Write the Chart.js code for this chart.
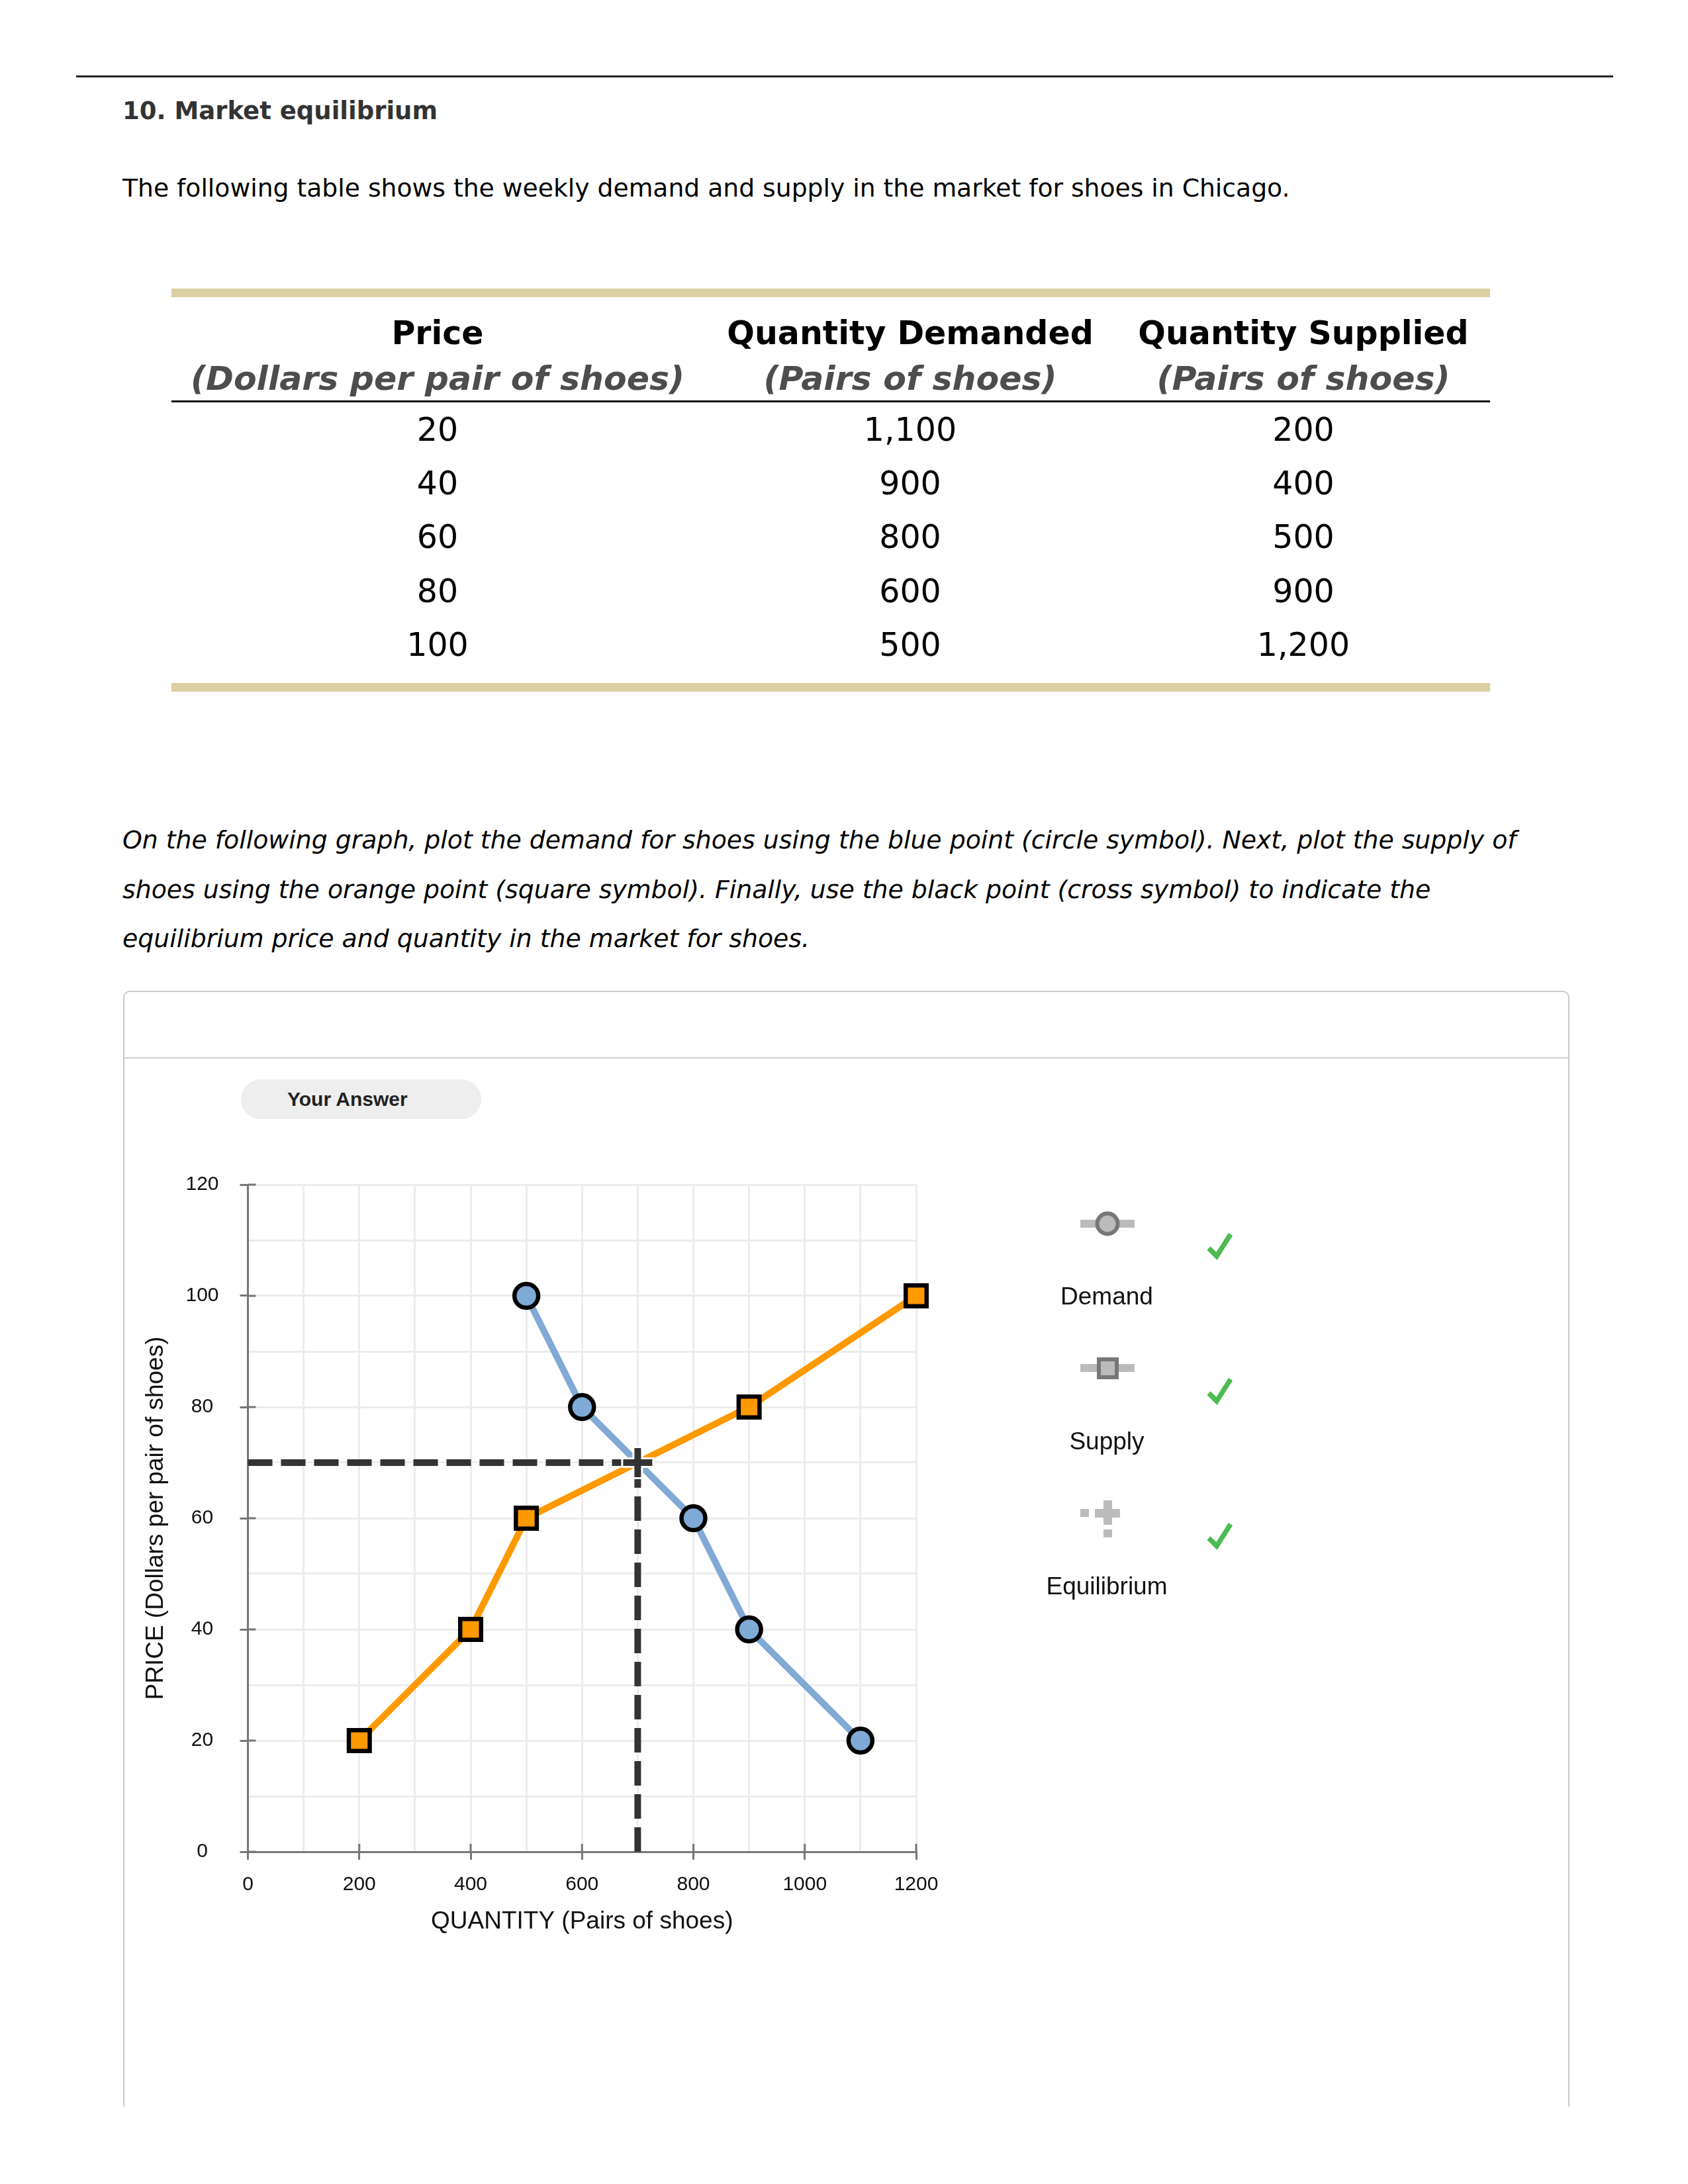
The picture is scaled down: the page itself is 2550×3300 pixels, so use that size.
<!DOCTYPE html>
<html>
<head>
<meta charset="utf-8">
<title>Market equilibrium</title>
<script src="https://cdn.jsdelivr.net/npm/chart.js@4.4.0/dist/chart.umd.min.js"></script>
<style>
  html, body { margin: 0; padding: 0; background: #fff; }
  body {
    width: 2550px; height: 3300px; position: relative; overflow: hidden;
    font-family: "DejaVu Sans", Verdana, sans-serif; color: #000;
  }
  .abs { position: absolute; white-space: nowrap; }
  .rule { left: 115px; top: 114px; width: 2322px; height: 3px; background: #222; }
  .title { left: 185px; top: 143px; line-height: 50px; font-size: 37px; font-weight: bold; color: #333; }
  .intro { left: 185px; top: 259px; line-height: 50px; font-size: 37.7px; }
  .tan { left: 259px; width: 1992px; height: 13px; background: #dbcfa3; }
  .cell { text-align: center; font-size: 49px; line-height: 70px; }
  .head { font-weight: bold; }
  .sub { font-weight: bold; font-style: italic; color: #4d4d4d; font-size: 50.5px; }
  .underline { left: 259px; top: 605px; width: 1992px; height: 3px; background: #111; }
  .para { left: 185px; top: 1232px; font-size: 37.8px; line-height: 74.5px; font-style: italic; }
  .clip { left: 0; top: 0; width: 2550px; height: 3183px; overflow: hidden; }
  .panel {
    position: absolute; left: 186px; top: 1497px; width: 2185px; height: 2200px;
    border: 2px solid #c9c9c9; border-radius: 10px; box-sizing: border-box;
  }
  .divider { position: absolute; left: 0; right: 0; top: 98px; height: 3px; background: #dcdcdc; }
  .pill {
    left: 364px; top: 1631px; width: 363px; height: 60px; border-radius: 30px; background: #eeeeee;
    font-family: "Liberation Sans", Arial, sans-serif; font-weight: bold; font-size: 30px;
    line-height: 60px; color: #222; box-sizing: border-box; padding-left: 70px;
  }
  #chart { position: absolute; left: 200px; top: 1740px; }
  .legtext {
    width: 300px; margin-left: -150px; text-align: center; line-height: 50px;
    font-family: "Liberation Sans", Arial, sans-serif; font-size: 37px; color: #111;
  }
  #legend { position: absolute; left: 0; top: 0; }
</style>
</head>
<body>
<div class="clip abs">
  <div class="panel"><div class="divider"></div></div>
</div>

<div class="abs rule"></div>
<div class="abs title">10. Market equilibrium</div>
<div class="abs intro">The following table shows the weekly demand and supply in the market for shoes in Chicago.</div>

<div class="abs tan" style="top:436px"></div>
<div id="table"></div>
<div class="abs underline"></div>
<div class="abs tan" style="top:1032px"></div>

<div class="abs para">On the following graph, plot the demand for shoes using the blue point (circle symbol). Next, plot the supply of<br>shoes using the orange point (square symbol). Finally, use the black point (cross symbol) to indicate the<br>equilibrium price and quantity in the market for shoes.</div>

<div class="abs pill">Your Answer</div>

<canvas id="chart" width="1250" height="1220"></canvas>

<svg id="legend" width="2550" height="2500">
  <!-- Demand -->
  <rect x="1632" y="1843" width="82" height="12" fill="#bbb"/>
  <circle cx="1673" cy="1849" r="15.5" fill="#bbb" stroke="#777" stroke-width="6"/>
  <!-- Supply -->
  <rect x="1632" y="2061" width="82" height="12" fill="#bbb"/>
  <rect x="1660" y="2054" width="27" height="27" fill="#bbb" stroke="#777" stroke-width="6"/>
  <!-- Equilibrium -->
  <rect x="1632" y="2280" width="13" height="12" fill="#bbb"/>
  <rect x="1654" y="2280" width="38" height="13" fill="#bbb"/>
  <rect x="1667" y="2267" width="13" height="37" fill="#bbb"/>
  <rect x="1667" y="2311" width="13" height="12" fill="#bbb"/>
  <!-- checks -->
  <g fill="none" stroke="#4cbb50" stroke-width="7.5">
    <polyline points="1826,1886 1838,1898 1859,1865"/>
    <polyline points="1826,2105 1838,2117 1859,2084"/>
    <polyline points="1826,2324 1838,2336 1859,2303"/>
  </g>
</svg>
<div class="abs legtext" style="left:1672px; top:1934px">Demand</div>
<div class="abs legtext" style="left:1672px; top:2153px">Supply</div>
<div class="abs legtext" style="left:1672px; top:2372px">Equilibrium</div>

<script>
// Table / chart data
const prices = [20, 40, 60, 80, 100];
const quantityDemanded = [1100, 900, 800, 600, 500];
const quantitySupplied = [200, 400, 500, 900, 1200];
const equilibriumQuantity = 700;
const equilibriumPrice = 70;

const columnTitles = ['Price', 'Quantity Demanded', 'Quantity Supplied'];
const columnUnits = ['(Dollars per pair of shoes)', '(Pairs of shoes)', '(Pairs of shoes)'];

const xTickLabels = [0, 200, 400, 600, 800, 1000, 1200];
const yTickLabels = [0, 20, 40, 60, 80, 100, 120];
const xTitle = 'QUANTITY (Pairs of shoes)';
const yTitle = 'PRICE (Dollars per pair of shoes)';

// ---- table ----
function buildTable() {
    const host = document.getElementById('table');
    const colLeft = [259, 1063, 1687];
    const colWidth = [804, 624, 564];
    const cell = (text, col, centerY, cls) => {
        const d = document.createElement('div');
        d.className = 'abs cell ' + (cls || '');
        d.style.left = colLeft[col] + 'px';
        d.style.width = colWidth[col] + 'px';
        d.style.top = (centerY - 35) + 'px';
        d.textContent = text;
        host.appendChild(d);
    };
    const fmt = v => v.toLocaleString('en-US');

    columnTitles.forEach((t, i) => cell(t, i, 504, 'head'));
    columnUnits.forEach((t, i) => cell(t, i, 572, 'sub'));

    prices.forEach((p, r) => {
        const y = 650 + r * 81.2;
        cell(fmt(p), 0, y);
        cell(fmt(quantityDemanded[r]), 1, y);
        cell(fmt(quantitySupplied[r]), 2, y);
    });
}

// small tick stubs that cross into the plot, like the original axes
const innerTicks = {
    id: 'innerTicks',
    afterDatasetsDraw(chart) {
        const { ctx, scales: { x, y } } = chart;
        ctx.save();
        ctx.strokeStyle = '#777';
        ctx.lineWidth = 3;
        ctx.beginPath();
        xTickLabels.forEach(v => {
            const px = x.getPixelForValue(v);
            ctx.moveTo(px, y.bottom);
            ctx.lineTo(px, y.bottom - 12);
        });
        yTickLabels.forEach(v => {
            const py = y.getPixelForValue(v);
            ctx.moveTo(x.left, py);
            ctx.lineTo(x.left + 12, py);
        });
        ctx.stroke();
        ctx.restore();
    }
};

// ---- chart ----
function buildChart() {
    const ctx = document.getElementById('chart');
    const font = 'Liberation Sans, Arial, sans-serif';

    const demandPoints = prices.map((p, i) => ({ x: quantityDemanded[i], y: p }));
    const supplyPoints = prices.map((p, i) => ({ x: quantitySupplied[i], y: p }));
    const eqPoint = [{ x: equilibriumQuantity, y: equilibriumPrice }];

    const axisColor = '#777';
    const gridColor = '#ececec';

    new Chart(ctx, {
        type: 'scatter',
        data: {
            datasets: [
                {
                    label: 'Equilibrium',
                    data: eqPoint,
                    pointStyle: 'cross',
                    pointRadius: 22,
                    pointBorderWidth: 10,
                    pointBorderColor: '#333',
                    showLine: false,
                    clip: false,
                    order: 0
                },
                {
                    label: 'halo',
                    data: eqPoint,
                    pointStyle: 'cross',
                    pointRadius: 25,
                    pointBorderWidth: 16,
                    pointBorderColor: '#fff',
                    showLine: false,
                    clip: false,
                    order: 1
                },
                {
                    label: 'Demand',
                    data: demandPoints,
                    showLine: true,
                    borderColor: '#80aad5',
                    borderWidth: 10,
                    pointStyle: 'circle',
                    pointRadius: 18,
                    pointBorderWidth: 6.5,
                    pointBorderColor: '#000',
                    pointBackgroundColor: '#7faad6',
                    clip: false,
                    order: 2
                },
                {
                    label: 'Supply',
                    data: supplyPoints,
                    showLine: true,
                    borderColor: '#ff9900',
                    borderWidth: 10,
                    pointStyle: 'rect',
                    pointRadius: 22.3,
                    pointBorderWidth: 6.5,
                    pointBorderColor: '#000',
                    pointBackgroundColor: '#ff9900',
                    clip: false,
                    order: 3
                },
                {
                    label: 'price guide',
                    data: [{ x: 0, y: equilibriumPrice }, { x: equilibriumQuantity, y: equilibriumPrice }],
                    showLine: true,
                    borderColor: '#333',
                    borderWidth: 10,
                    borderDash: [37, 13],
                    pointRadius: 0,
                    clip: false,
                    order: 4
                },
                {
                    label: 'quantity guide',
                    data: [{ x: equilibriumQuantity, y: 0 }, { x: equilibriumQuantity, y: equilibriumPrice }],
                    showLine: true,
                    borderColor: '#333',
                    borderWidth: 10,
                    borderDash: [37, 13],
                    pointRadius: 0,
                    clip: false,
                    order: 5
                }
            ]
        },
        options: {
            responsive: false,
            animation: false,
            layout: { padding: { top: 46, right: 66, bottom: 0, left: 0 } },
            plugins: {
                legend: { display: false },
                tooltip: { enabled: false }
            },
            scales: {
                x: {
                    type: 'linear',
                    min: 0,
                    max: 1200,
                    afterFit: (scale) => { scale.height = 162; },
                    border: { color: axisColor, width: 3 },
                    grid: {
                        color: gridColor,
                        lineWidth: 3,
                        tickLength: 12,
                        tickWidth: 3,
                        tickColor: (c) => (c.tick && xTickLabels.includes(c.tick.value)) ? axisColor : 'rgba(0,0,0,0)'
                    },
                    ticks: {
                        stepSize: 100,
                        autoSkip: false,
                        maxRotation: 0,
                        padding: 20,
                        color: '#111',
                        font: { family: font, size: 30 },
                        callback: (v) => xTickLabels.includes(v) ? String(v) : ''
                    },
                    title: {
                        display: true,
                        text: xTitle,
                        color: '#111',
                        font: { family: font, size: 37 },
                        padding: { top: 0, bottom: 34 }
                    }
                },
                y: {
                    type: 'linear',
                    min: 0,
                    max: 120,
                    afterFit: (scale) => { scale.width = 174.5; },
                    border: { color: axisColor, width: 3 },
                    grid: {
                        color: gridColor,
                        lineWidth: 3,
                        tickLength: 12,
                        tickWidth: 3,
                        tickColor: (c) => (c.tick && yTickLabels.includes(c.tick.value)) ? axisColor : 'rgba(0,0,0,0)'
                    },
                    ticks: {
                        stepSize: 10,
                        autoSkip: false,
                        crossAlign: 'center',
                        padding: 32,
                        color: '#111',
                        font: { family: font, size: 30 },
                        callback: (v) => yTickLabels.includes(v) ? String(v) : ''
                    },
                    title: {
                        display: true,
                        text: yTitle,
                        color: '#111',
                        font: { family: font, size: 37 },
                        padding: { top: 14, bottom: 0 }
                    }
                }
            }
        },
        plugins: [innerTicks]
    });
}

buildTable();
buildChart();
</script>
</body>
</html>
